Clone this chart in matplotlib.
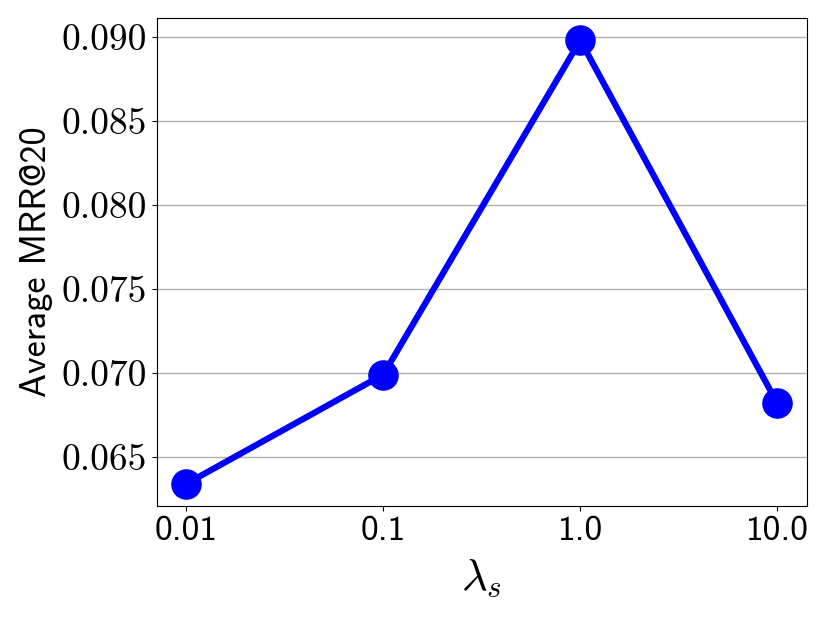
import matplotlib
matplotlib.use("Agg")
import matplotlib.pyplot as plt

# Data
lambdas = ["0.01", "0.1", "1.0", "10.0"]
mrr20 = [0.0634, 0.0699, 0.0898, 0.0682]
yticks = [0.065, 0.070, 0.075, 0.080, 0.085, 0.090]

plt.rcParams['mathtext.fontset'] = 'cm'

fig = plt.figure(figsize=(8.3, 6.23), dpi=100)
ax = fig.add_axes([0.189, 0.188, 0.783, 0.783])

x = list(range(len(lambdas)))
ax.plot(x, mrr20, color='blue', linewidth=4.5, marker='o', markersize=21, zorder=3)

ax.set_xticks(x)
ax.set_xticklabels(lambdas, fontfamily='cmss10', fontsize=25.5)
ax.set_yticks(yticks)
ax.set_yticklabels([f"{v:.3f}" for v in yticks], fontfamily='cmr10', fontsize=27)

ax.yaxis.grid(True, color='#b0b0b0', linewidth=1)
ax.set_axisbelow(True)

ax.set_ylabel("Average MRR@20", fontfamily='cmss10', fontsize=26, labelpad=6)
ax.set_xlabel(r"$\lambda_s$", fontsize=32, labelpad=7)

fig.savefig("out.png", dpi=100)
